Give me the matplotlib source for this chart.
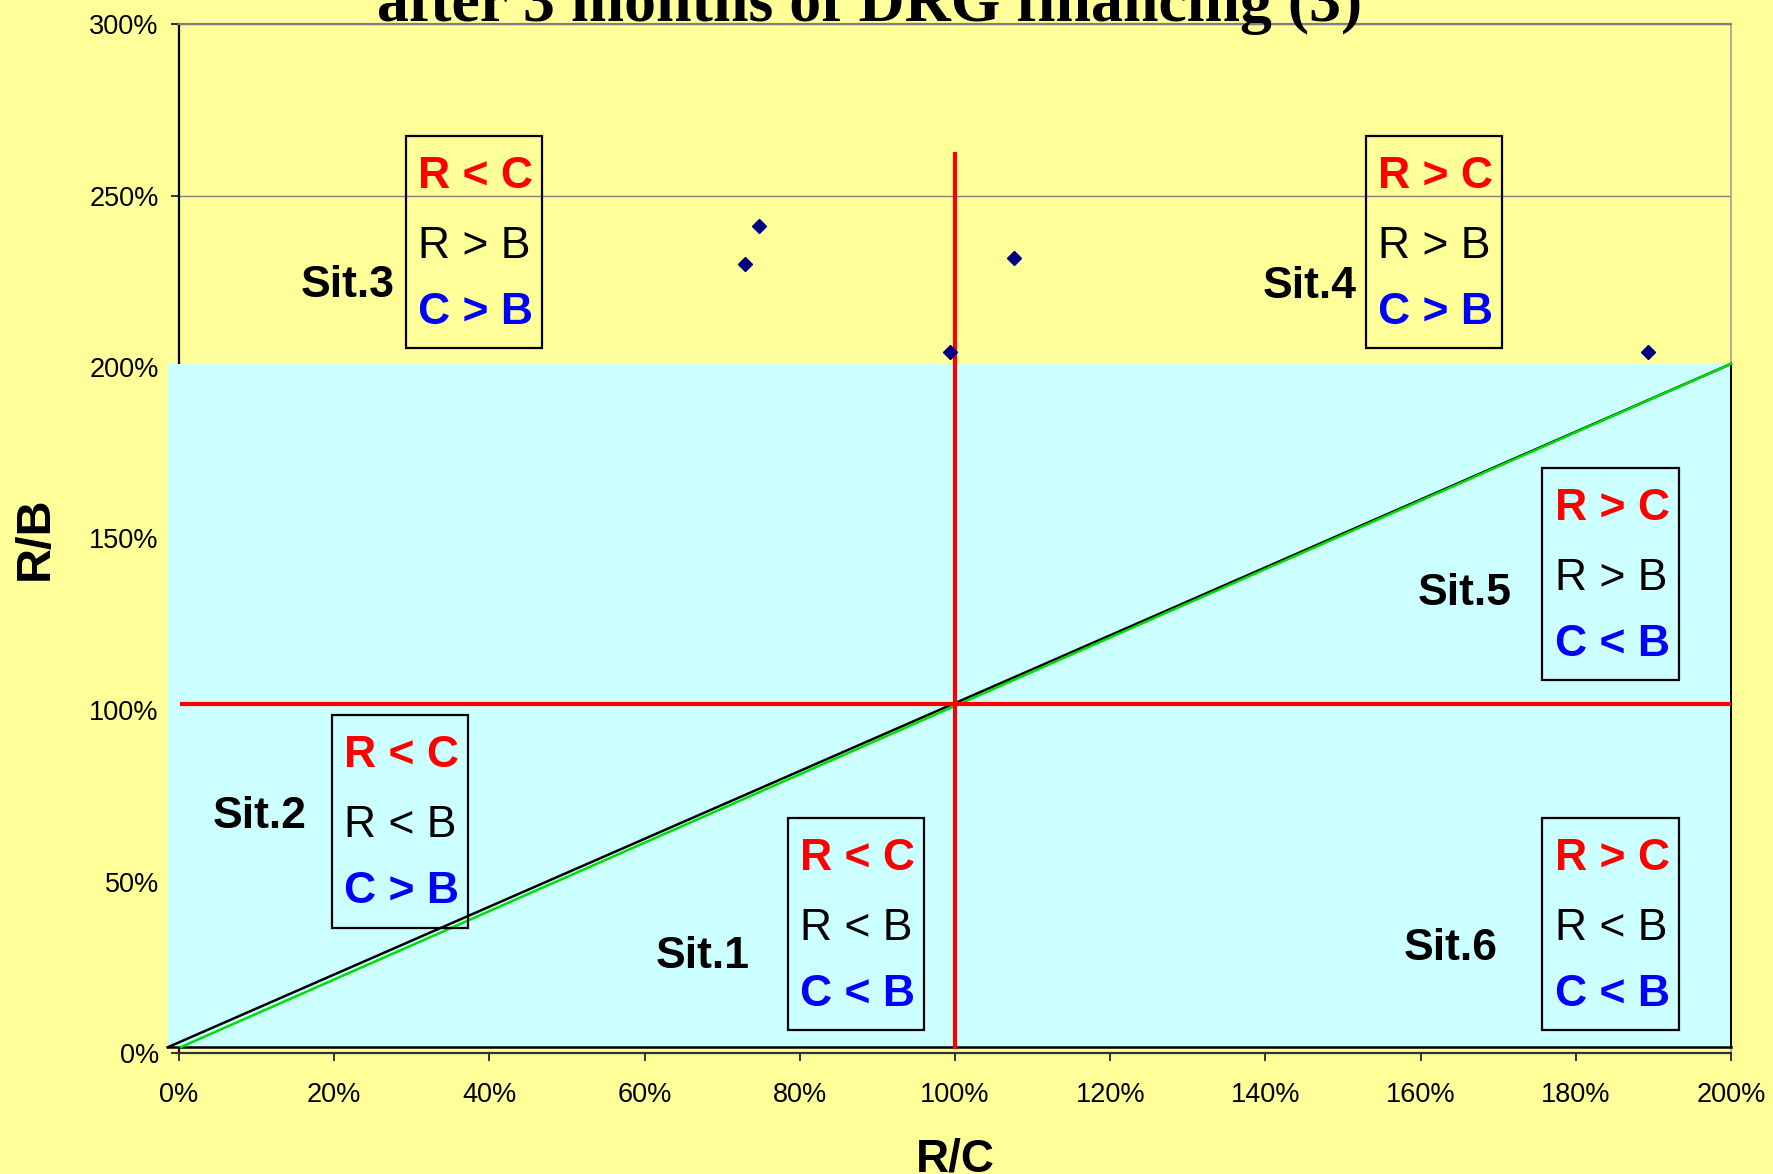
import numpy as np
import matplotlib.pyplot as plt
from matplotlib.patches import Rectangle
from matplotlib.ticker import FuncFormatter

# hospitals: revenue/cost vs revenue/budget
rc = [0.730, 0.748, 0.993, 1.076, 1.893]
rb = [2.300, 2.412, 2.044, 2.318, 2.045]

x_ticks = [0.0, 0.2, 0.4, 0.6, 0.8, 1.0, 1.2, 1.4, 1.6, 1.8, 2.0]
y_ticks = [0.0, 0.5, 1.0, 1.5, 2.0, 2.5, 3.0]

# situations 1..6
sit_names = ["Sit.1", "Sit.2", "Sit.3", "Sit.4", "Sit.5", "Sit.6"]
rel_rc = ["R < C", "R < C", "R < C", "R > C", "R > C", "R > C"]
rel_rb = ["R < B", "R < B", "R > B", "R > B", "R > B", "R < B"]
rel_cb = ["C < B", "C > B", "C > B", "C > B", "C < B", "C < B"]

# layout (data coords): box top-left corner, label left/baseline
box_pos = [(0.7844, 0.6860), (0.1968, 0.9845), (0.2921, 2.6744),
           (1.5296, 2.6744), (1.7568, 1.7064), (1.7568, 0.6860)]
lab_pos = [(0.6143, 0.2469), (0.0438, 0.6569), (0.1568, 2.2050),
           (1.3960, 2.2003), (1.5966, 1.3061), (1.5786, 0.2711)]

YELLOW = "#FFFF99"
CYAN = "#CCFFFF"

fig = plt.figure(figsize=(17.73, 11.74), dpi=100, facecolor=YELLOW)
ax = fig.add_axes([179 / 1773, 1 - 1053 / 1174, 1552 / 1773, 1029 / 1174])
ax.set_facecolor(YELLOW)
ax.set_xlim(0, 2)
ax.set_ylim(0, 3)

ax.set_xticks(x_ticks)
ax.set_yticks(y_ticks)
pct = FuncFormatter(lambda v, p: "%d%%" % round(v * 100))
ax.xaxis.set_major_formatter(pct)
ax.yaxis.set_major_formatter(pct)
ax.tick_params(axis="both", direction="out", length=6, width=1.3,
               color="#222222", labelsize=19.5, labelcolor="black")
ax.tick_params(axis="x", pad=15)
ax.tick_params(axis="y", pad=8.5)
for lab in ax.get_xticklabels() + ax.get_yticklabels():
    lab.set_fontfamily("Liberation Sans")

ax.set_axisbelow(True)
ax.yaxis.grid(True, color="#808080", lw=1.0)
ax.spines["left"].set_color("black")
ax.spines["left"].set_linewidth(1.6)
ax.spines["bottom"].set_color("#333333")
ax.spines["bottom"].set_linewidth(1.6)
ax.spines["top"].set_color("#808080")
ax.spines["top"].set_linewidth(1.6)
ax.spines["right"].set_color("#a0a0a0")
ax.spines["right"].set_linewidth(1.2)

# cyan zone R/B < 200%
ax.add_patch(Rectangle((-0.0146, 0.0166), 2.0146, 1.9924, facecolor=CYAN,
                       edgecolor="none", zorder=3, clip_on=False))
ax.plot([-0.0146, 2.0], [0.0166, 0.0166], color="black", lw=1.8, zorder=4, clip_on=False)
ax.plot([2.0, 2.0], [0.0166, 2.009], color="black", lw=1.4, zorder=4, clip_on=False)

# diagonals
ax.plot([-0.0146, 2.0], [0.0166, 2.009], color="black", lw=1.8, zorder=4, clip_on=False)
ax.plot([0.0026, 2.0], [0.0175, 2.009], color="#00DD00", lw=1.8, zorder=4, clip_on=False)

# red cross at 100%
ax.plot([1.0, 1.0], [0.0166, 2.621], color="red", lw=3, zorder=4)
ax.plot([0.004, 2.0], [1.018, 1.018], color="red", lw=3, zorder=4)

# situation boxes
bw, bh = 0.1759, 0.6195
dx = 0.0161
offs = [0.1516, 0.3557, 0.5481]
for i in range(6):
    x0, y0 = box_pos[i]
    ax.add_patch(Rectangle((x0, y0 - bh), bw, bh, facecolor="none",
                           edgecolor="black", lw=1.6, zorder=5))
    ax.text(x0 + dx, y0 - offs[0], rel_rc[i], color="red", fontsize=32,
            fontweight="bold", family="Liberation Sans", va="baseline", zorder=6)
    ax.text(x0 + dx, y0 - offs[1], rel_rb[i], color="black", fontsize=32,
            family="Liberation Sans", va="baseline", zorder=6)
    ax.text(x0 + dx, y0 - offs[2], rel_cb[i], color="blue", fontsize=32,
            fontweight="bold", family="Liberation Sans", va="baseline", zorder=6)
    lx, ly = lab_pos[i]
    ax.text(lx, ly, sit_names[i], color="black", fontsize=32, fontweight="bold",
            family="Liberation Sans", va="baseline", zorder=6)

# hospitals
ax.plot(rc, rb, linestyle="none", marker="D", ms=7.5, color="#000080", zorder=7,
        clip_on=False)

fig.text(870 / 1773, 1 - 20.7 / 1174, "after 3 months of DRG financing (3)",
         family="Liberation Serif", fontweight="bold", fontsize=46,
         ha="center", va="baseline")
fig.text(955 / 1773, 1 - 1171 / 1174, "R/C", family="Liberation Sans",
         fontweight="bold", fontsize=33, ha="center", va="baseline")
fig.text(35 / 1773, 1 - 538 / 1174, "R/B", family="Liberation Sans",
         fontweight="bold", fontsize=35, ha="center", va="center", rotation=90)

fig.savefig("out.png", dpi=100, facecolor=YELLOW)
